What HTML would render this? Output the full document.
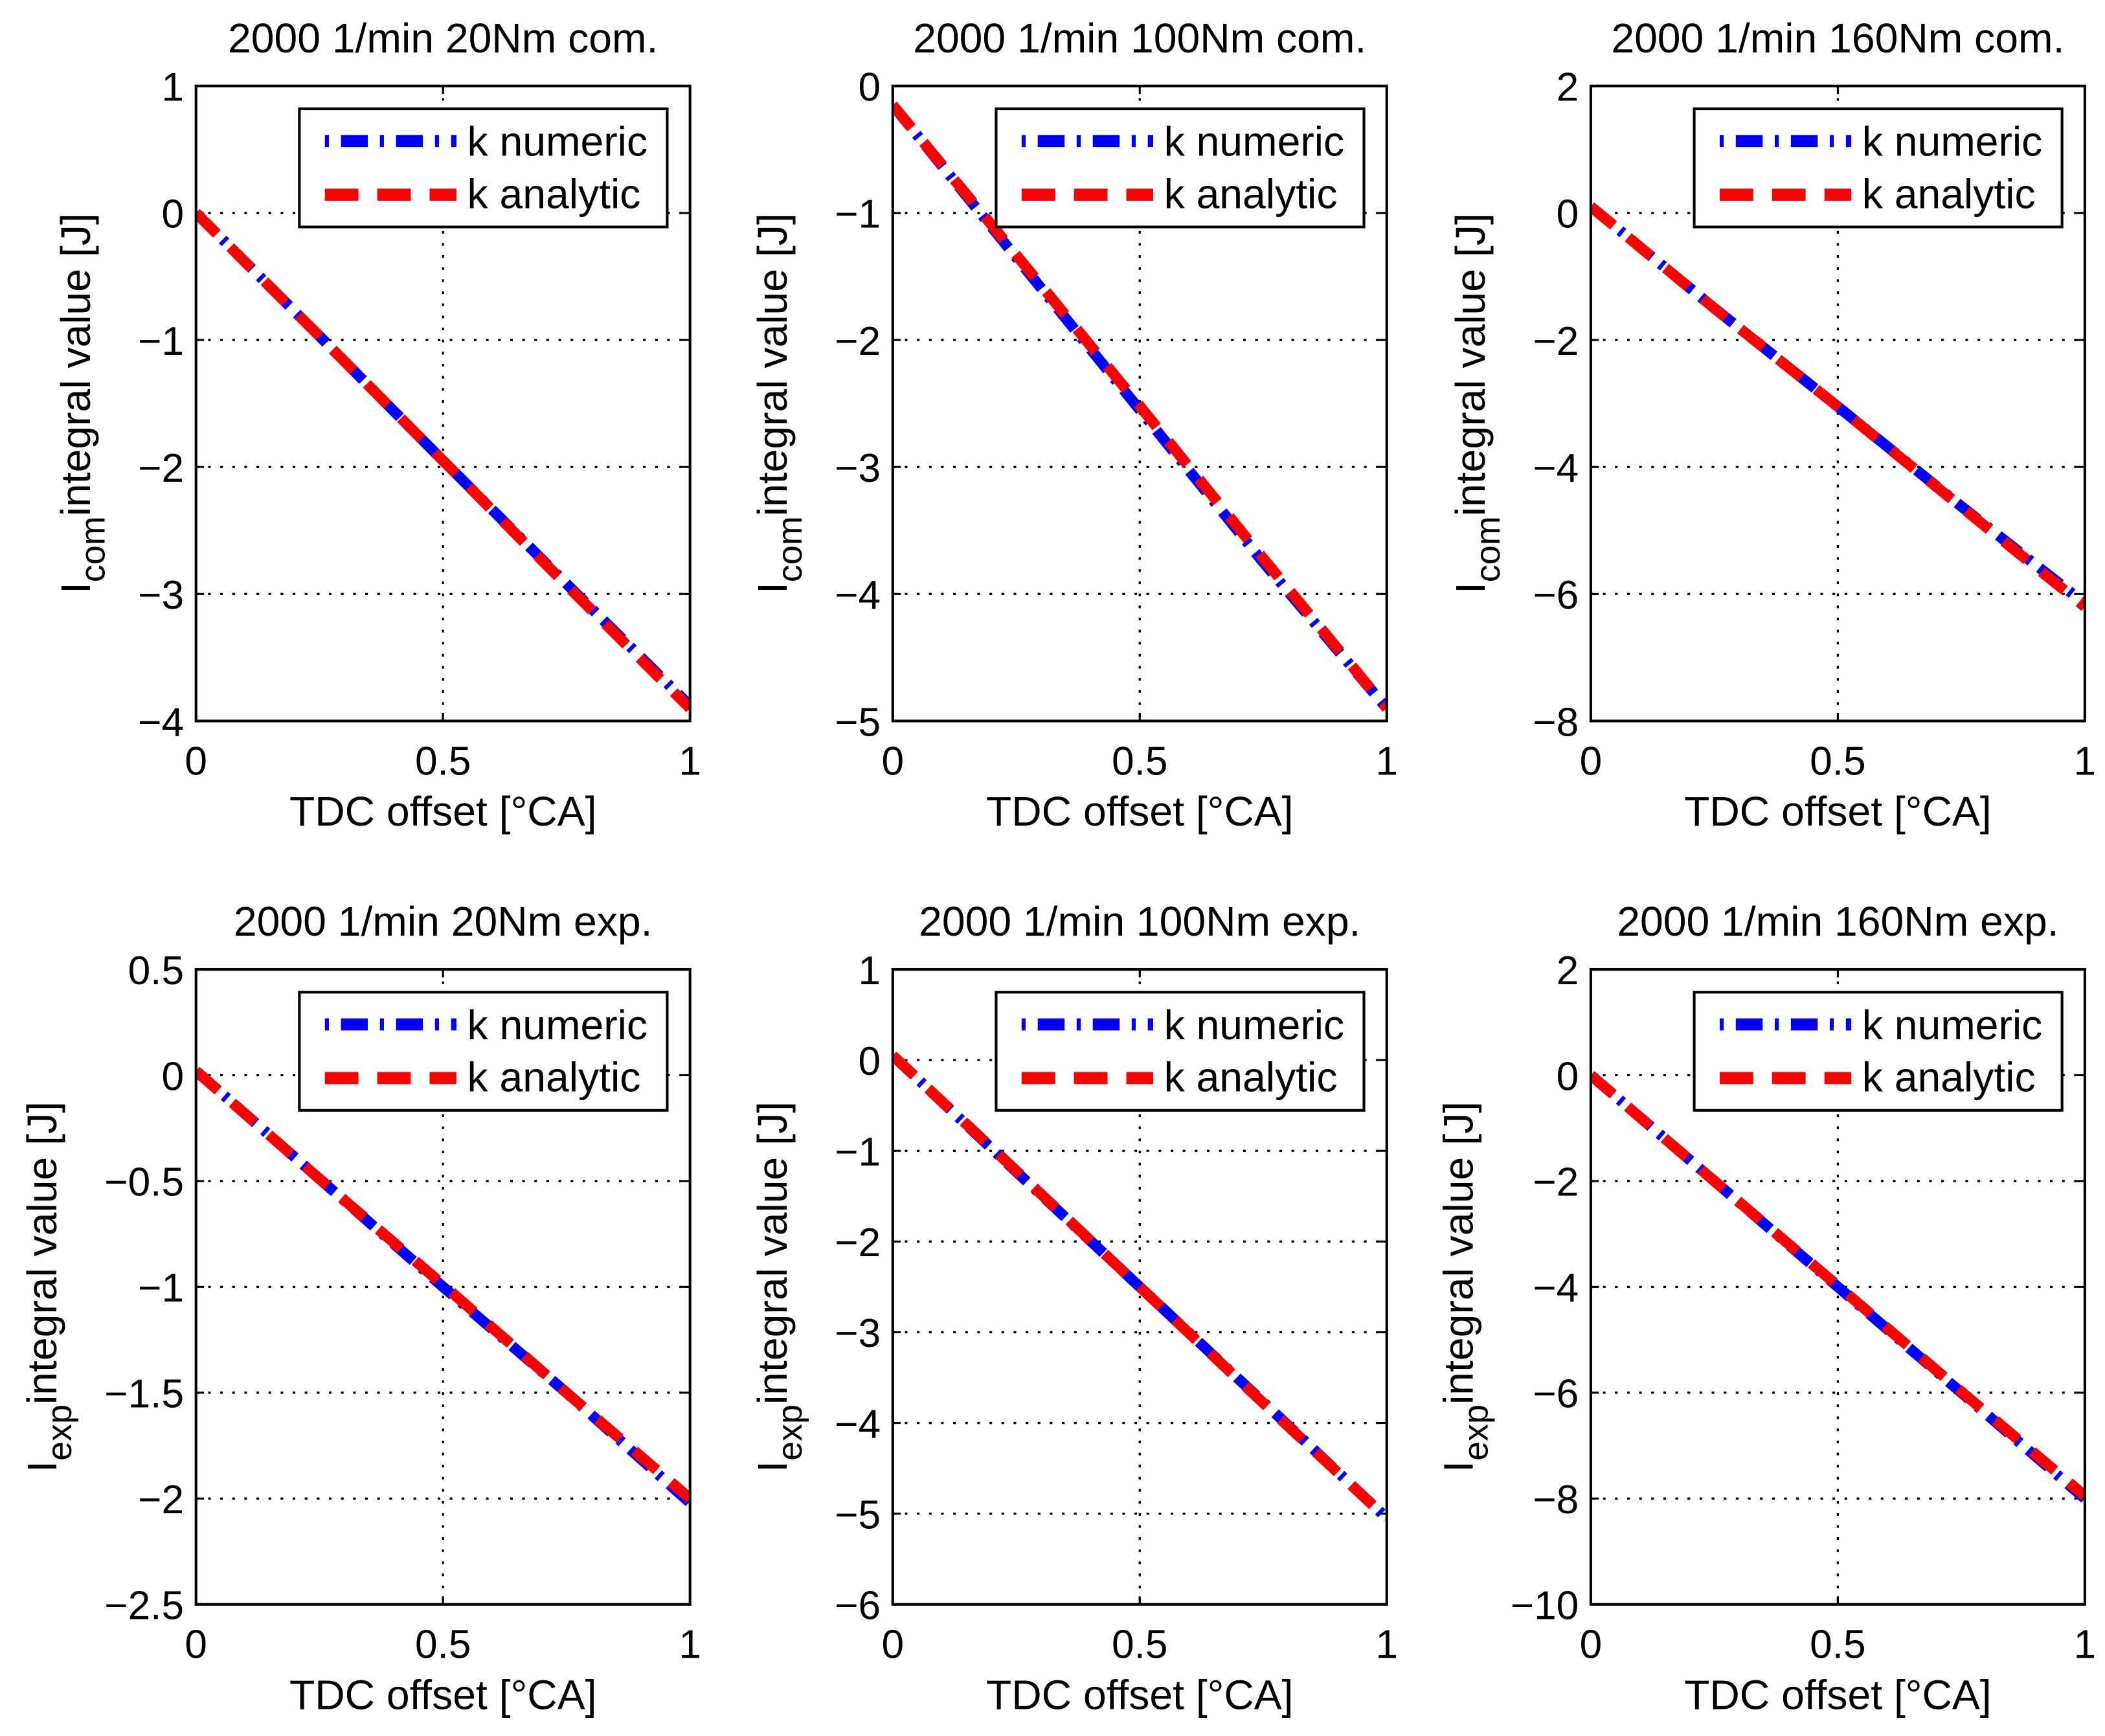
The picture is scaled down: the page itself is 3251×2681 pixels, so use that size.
<!DOCTYPE html>
<html><head><meta charset="utf-8"><style>
html,body{margin:0;padding:0;background:#fff;}
svg{display:block;}
text{font-family:"Liberation Sans",sans-serif;fill:#000;}
</style></head><body>
<svg id="fig" width="3251" height="2681" viewBox="0 0 1568 1293" xmlns="http://www.w3.org/2000/svg"></svg>
<script>
// ---- data ----
const titles = ["2000 1/min 20Nm com.","2000 1/min 100Nm com.","2000 1/min 160Nm com.","2000 1/min 20Nm exp.","2000 1/min 100Nm exp.","2000 1/min 160Nm exp."];
const subs = ["com","com","com","exp","exp","exp"];
const yMins = [-4,-5,-8,-2.5,-6,-10];
const yMaxs = [1,0,2,0.5,1,2];
const ySteps = [1,1,2,0.5,1,2];
const xVals = [0,0.25,0.5,0.75,1];
const numeric1 = [0,-0.97,-1.95,-2.92,-3.88];
const analytic1 = [0,-0.97,-1.95,-2.93,-3.9];
const numeric2 = [-0.15,-1.35,-2.55,-3.75,-4.9];
const analytic2 = [-0.15,-1.33,-2.52,-3.72,-4.9];
const numeric3 = [0.1,-1.5,-3.05,-4.62,-6.15];
const analytic3 = [0.1,-1.5,-3.05,-4.63,-6.2];
const numeric4 = [0.02,-0.49,-1.0,-1.5,-2.02];
const analytic4 = [0.02,-0.49,-0.99,-1.5,-2.0];
const numeric5 = [0.05,-1.23,-2.5,-3.77,-5.05];
const analytic5 = [0.05,-1.22,-2.5,-3.78,-5.05];
const numeric6 = [0,-2.0,-4.0,-6.0,-8.0];
const analytic6 = [0,-2.0,-3.98,-5.98,-7.95];
const numerics=[numeric1,numeric2,numeric3,numeric4,numeric5,numeric6];
const analytics=[analytic1,analytic2,analytic3,analytic4,analytic5,analytic6];
const xTicks=[0,0.5,1];

const NS="http://www.w3.org/2000/svg";
const svg=document.getElementById('fig');
function mk(tag,attrs,parent){const e=document.createElementNS(NS,tag);for(const k in attrs)e.setAttribute(k,attrs[k]);(parent||svg).appendChild(e);return e;}
const colX=[146,665,1185], rowY=[64,722], W=368, H=473;
const ylabOff=[79,79,79,104,79,88];
function fmt(v){return (v<0?"\u2212":"")+String(Math.abs(Math.round(v*10)/10));}
for(let i=0;i<6;i++){
  const c=i%3,r=Math.floor(i/3);
  const L=colX[c],T=rowY[r],R=L+W,B=T+H;
  const g=mk('g',{});
  
  
  const sx=v=>L+v*W;
  const sy=v=>B-(v-yMins[i])/(yMaxs[i]-yMins[i])*H;
  for(let v=yMins[i];v<=yMaxs[i]+1e-9;v+=ySteps[i]){
    const y=sy(v);
    if(Math.abs(y-T)>1&&Math.abs(y-B)>1){
      const gl=mk('line',{x1:L,x2:R,y1:y,y2:y,stroke:'#000','stroke-width':1.6,'stroke-dasharray':'2 7'},g);
      
      
    }
    mk('line',{x1:L,x2:L+6,y1:y,y2:y,stroke:'#000','stroke-width':1.5},g);
    mk('line',{x1:R-6,x2:R,y1:y,y2:y,stroke:'#000','stroke-width':1.5},g);
    const t=mk('text',{x:L-9,y:y+11,'text-anchor':'end','font-size':30},g);
    t.textContent=fmt(v);
    
    
  }
  xTicks.forEach(v=>{
    const x=sx(v);
    if(v>0&&v<1){
      const gl=mk('line',{x1:x,x2:x,y1:T,y2:B,stroke:'#000','stroke-width':1.6,'stroke-dasharray':'2 7'},g);
      
      
    }
    mk('line',{x1:x,x2:x,y1:B,y2:B-6,stroke:'#000','stroke-width':1.5},g);
    mk('line',{x1:x,x2:x,y1:T,y2:T+6,stroke:'#000','stroke-width':1.5},g);
    const t=mk('text',{x:x,y:B+40,'text-anchor':'middle','font-size':30},g);
    t.textContent=String(v);
    
    
  });
  const clipId='clip'+i;
  const cp=mk('clipPath',{id:clipId},g);mk('rect',{x:L,y:T,width:W,height:H},cp);
  const pts=a=>a.map((v,k)=>sx(xVals[k])+','+sy(v)).join(' ');
  const pn=mk('polyline',{points:pts(numerics[i]),fill:'none',stroke:'#0000ff','stroke-width':8,'stroke-dasharray':'20 8 3 8','clip-path':'url(#'+clipId+')'},g);
  
  
  const pa=mk('polyline',{points:pts(analytics[i]),fill:'none',stroke:'#ff0000','stroke-width':8,'stroke-dasharray':'22 14','clip-path':'url(#'+clipId+')'},g);
  
  
  const bx=mk('rect',{x:L,y:T,width:W,height:H,fill:'none',stroke:'#000','stroke-width':2},g);
  
  
  const lg=mk('g',{},g);
  
  
  mk('rect',{x:L+77,y:T+17,width:274,height:88,fill:'#fff',stroke:'#000','stroke-width':2},lg);
  mk('line',{x1:L+96,x2:L+194,y1:T+41,y2:T+41,stroke:'#0000ff','stroke-width':9,'stroke-dasharray':'3 9 20 9'},lg);
  mk('line',{x1:L+96,x2:L+194,y1:T+81,y2:T+81,stroke:'#ff0000','stroke-width':9,'stroke-dasharray':'25 14'},lg);
  const l1=mk('text',{x:L+202,y:T+52,'font-size':31},lg);l1.textContent='k numeric';
  
  
  const l2=mk('text',{x:L+202,y:T+91,'font-size':31},lg);l2.textContent='k analytic';
  
  
  const tt=mk('text',{x:L+W/2,y:T-25,'text-anchor':'middle','font-size':31},g);
  tt.textContent=titles[i];
  
  
  const xl=mk('text',{x:L+W/2,y:B+78,'text-anchor':'middle','font-size':31},g);
  xl.textContent='TDC offset [\u00B0CA]';
  
  
  const yx=L-ylabOff[i];
  const yl=mk('text',{x:0,y:0,'text-anchor':'middle','font-size':31,transform:'translate('+yx+','+(T+H/2)+') rotate(-90)'},g);
  
  
  const t1=mk('tspan',{},yl);t1.textContent='I';
  const t2=mk('tspan',{dy:11,'font-size':26},yl);t2.textContent=subs[i];
  const t3=mk('tspan',{dy:-11},yl);t3.textContent='integral value [J]';
}
</script>
</body></html>
